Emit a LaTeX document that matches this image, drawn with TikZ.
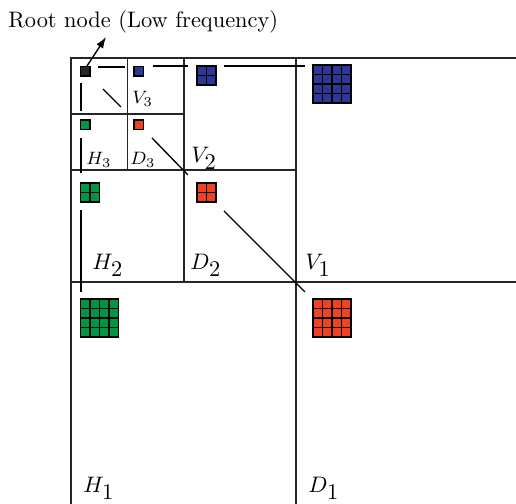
\documentclass[tikz,border=0pt]{standalone}
\usepackage{tikz}
\usetikzlibrary{arrows.meta}
\definecolor{wavblue}{RGB}{45,55,150}
\definecolor{wavgreen}{RGB}{0,150,70}
\definecolor{wavred}{RGB}{240,65,35}

\begin{document}
\begin{tikzpicture}[x=0.446pt,y=-0.446pt,
      frame/.style={draw=black!85,line width=0.6pt},
      scan/.style={draw=black,line width=0.6pt},
      cell/.style={draw=black,line width=0.55pt},
      biglbl/.style={anchor=base west,inner sep=0pt,font=\normalsize},
      smalllbl/.style={anchor=base west,inner sep=0pt,font=\footnotesize}]
    \useasboundingbox (0,0) rectangle (516,504);
    \clip (0,0) rectangle (516,504);
    % subband borders, levels 1 to 3
    \draw[frame] (71,508) -- (71,58) -- (521,58);
    \draw[frame] (296,58) -- (296,508);
    \draw[frame] (71,282) -- (521,282);
    \draw[frame] (184,58) -- (184,282);
    \draw[frame] (71,170) -- (296,170);
    \draw[frame] (127.5,58) -- (127.5,170);
    \draw[frame] (71,114) -- (184,114);
    % coefficient blocks
    \foreach \x/\y/\n/\c in {80.5/66.5/1/black!85, 134/66.5/1/wavblue,
        80.5/120/1/wavgreen, 134/120/1/wavred,
        197/66/2/wavblue, 80.5/183/2/wavgreen, 197/183/2/wavred,
        313/65/4/wavblue, 80.5/299/4/wavgreen, 313/299/4/wavred}
      \foreach \i in {1,...,\n}
        \foreach \j in {1,...,\n}
          \filldraw[cell,fill=\c] ({\x+(\i-1)*9.5},{\y+(\j-1)*9.5}) rectangle +(9.5,9.5);
    % scan order
    \draw[scan] (98,67) -- (125,67);
    \draw[scan] (81,83) -- (81,111);
    \draw[scan] (103,89) -- (121,107);
    \draw[scan] (153,66) -- (188,66);
    \draw[scan] (81,138) -- (81,173);
    \draw[scan] (152,138) -- (188,175);
    \draw[scan] (224,66) -- (305,66);
    \draw[scan] (81,210) -- (81,292);
    \draw[scan] (224,211) -- (305,292);
    % labels
    \node[smalllbl] (v3) at (132,104) {$V_3$};
    \node[smalllbl] (h3) at (86,165) {$H_3$};
    \node[smalllbl] (d3) at (130,165) {$D_3$};
    \node[biglbl] (v2) at (191,163) {$V_{\textstyle 2}$};
    \node[biglbl] (h2) at (92,270) {$H_{\textstyle 2}$};
    \node[biglbl] (d2) at (190,270) {$D_{\textstyle 2}$};
    \node[biglbl] (v1) at (305,270) {$V_{\textstyle 1}$};
    \node[biglbl] (h1) at (83,493) {$H_{\textstyle 1}$};
    \node[biglbl] (d1) at (308,493) {$D_{\textstyle 1}$};
    % root pointer
    \node[anchor=base west,inner sep=0pt] (roottext) at (8,28) {Root node (Low frequency)};
    \coordinate (root) at (87,66);
    \coordinate (tip) at (106,37);
    \draw[-{Latex[length=5pt,width=3.5pt]},line width=0.6pt] (root) -- (tip);
\end{tikzpicture}
\end{document}
